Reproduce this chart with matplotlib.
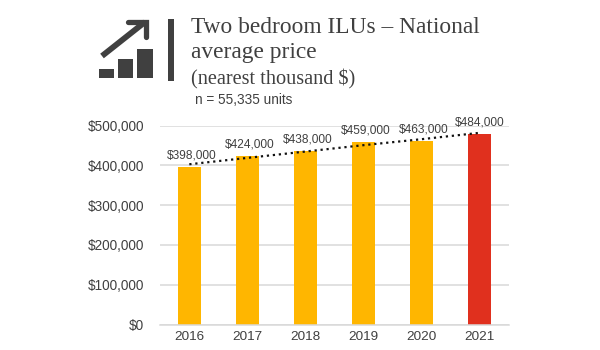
import matplotlib
matplotlib.use("Agg")
import matplotlib.pyplot as plt
from matplotlib.patches import Rectangle

years = ["2016", "2017", "2018", "2019", "2020", "2021"]
bar_values = [397000, 423000, 436000, 458000, 462000, 479000]
price_labels = ["$398,000", "$424,000", "$438,000", "$459,000", "$463,000", "$484,000"]
trend_values = [403000, 419000, 435000, 451000, 466000, 482000]
y_ticks = [0, 100000, 200000, 300000, 400000, 500000]
y_tick_labels = ["$0", "$100,000", "$200,000", "$300,000", "$400,000", "$500,000"]
bar_colors = ["#FFB600"] * 5 + ["#E0301E"]
label_offsets_px = [(2, 11.5), (2, 11.5), (2, 11.5), (2, 11.5), (2, 11.5), (0, 11.5)]

W, H = 600, 350
plt.rcParams["font.family"] = ["Liberation Sans"]
fig = plt.figure(figsize=(6, 3.5), dpi=100, facecolor="white")
ax = fig.add_axes([160.3 / W, (H - 324.5) / H, (509 - 160.3) / W, (324.5 - 125.7) / H])
x = list(range(len(years)))
ax.set_axisbelow(True)
ax.bar(x, bar_values, width=0.39, color=bar_colors, zorder=2)
ax.plot(x, trend_values, color="#111111", lw=1.6, ls=(0, (1, 1.7)), zorder=3, clip_on=False)
ax.set_xlim(-0.5, 5.51)
ax.set_ylim(0, 500000)
ax.set_yticks(y_ticks, y_tick_labels)
ax.set_xticks(x, years)
ax.grid(axis="y", color="#D9D9D9", lw=1.1)
ax.tick_params(length=0)
ax.tick_params(axis="y", pad=11.5, labelsize=9.8, labelcolor="#404040")
ax.tick_params(axis="x", pad=5, labelsize=9.7, labelcolor="#404040")
for s in ["top", "right", "left"]:
    ax.spines[s].set_visible(False)
ax.spines["bottom"].set_color("#D9D9D9")
ax.spines["bottom"].set_linewidth(1.1)

for i, (lab, off) in enumerate(zip(price_labels, label_offsets_px)):
    ax.annotate(lab, (i, bar_values[i]), xytext=(off[0] * 0.72, off[1] * 0.72),
                textcoords="offset points", ha="center", va="center",
                fontsize=8.6, color="#404040", annotation_clip=False)

# overlay in pixel coordinates for header and icon
ov = fig.add_axes([0, 0, 1, 1], facecolor="none")
ov.set_xlim(0, W)
ov.set_ylim(H, 0)
ov.axis("off")
ink = "#404040"
for x0, x1, y0 in [(99, 114, 68.7), (118.3, 132.5, 59), (137, 152.5, 48.7)]:
    ov.add_patch(Rectangle((x0, y0), x1 - x0, 78 - y0, color=ink, lw=0))
ov.add_patch(Rectangle((168, 19), 6.3, 61.5, color=ink, lw=0))
ov.plot([102, 145], [56, 22], color=ink, lw=4.2, solid_capstyle="butt")
ov.plot([128, 145.5, 145.5], [21.5, 21.5, 37], color=ink, lw=3.8, solid_capstyle="round", solid_joinstyle="miter")

serif = "Liberation Serif"
ov.text(191, 33, "Two bedroom ILUs \u2013 National", family=serif, fontsize=16.8, color=ink, va="baseline")
ov.text(191, 58, "average price", family=serif, fontsize=16.8, color=ink, va="baseline")
ov.text(191, 84, "(nearest thousand $)", family=serif, fontsize=14.6, color=ink, va="baseline")
ov.text(195, 104, "n = 55,335 units", family="Liberation Sans", fontsize=9.8, color=ink, va="baseline")

fig.savefig("out.png", dpi=100)
